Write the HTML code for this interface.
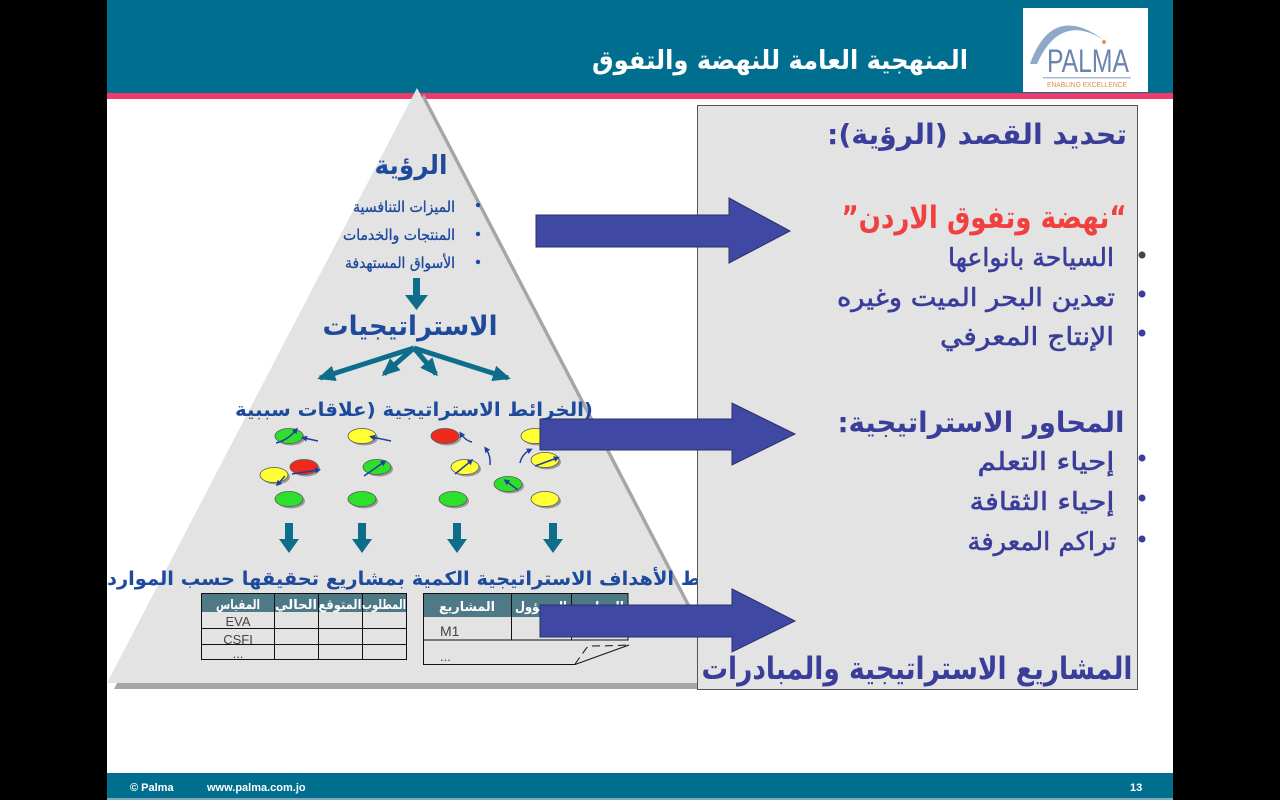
<!DOCTYPE html>
<html><head><meta charset="utf-8"><style>
html,body{margin:0;padding:0;background:#000;}
svg{display:block;}
.ar{font-family:"DejaVu Sans",sans-serif;}
.lt{font-family:"Liberation Sans",sans-serif;}
</style></head><body>
<svg width="1280" height="800" viewBox="0 0 1280 800" xmlns="http://www.w3.org/2000/svg">
<defs>
<marker id="mh" markerWidth="6" markerHeight="6" refX="3" refY="3" orient="auto" markerUnits="userSpaceOnUse"><path d="M0,0 L6,3 L0,6 Z" fill="#1f3f9a"/></marker>
<marker id="th" markerWidth="18" markerHeight="16" refX="15" refY="8" orient="auto" markerUnits="userSpaceOnUse"><path d="M0,0 L18,8 L0,16 Z" fill="#0d6d8a"/></marker>
</defs>
<rect x="0" y="0" width="1280" height="800" fill="#000"/>
<rect x="107" y="0" width="1066" height="800" fill="#fff"/>
<!-- header -->
<rect x="107" y="0" width="1066" height="93" fill="#006f8f"/>
<rect x="107" y="93" width="1066" height="6" fill="#ef3b6c"/>
<text class="ar" x="780" y="69" font-size="26" font-weight="bold" fill="#fff" text-anchor="middle" direction="rtl" textLength="376" lengthAdjust="spacingAndGlyphs">المنهجية العامة للنهضة والتفوق</text>
<!-- logo -->
<rect x="1023" y="8" width="125" height="84" fill="#fff"/>
<path d="M1030,64 Q1052,2 1104,40 Q1060,12 1037,64 Z" fill="#8fa7c9"/>
<text class="lt" x="1088" y="72" font-size="32" fill="#6a84b0" text-anchor="middle" textLength="82" lengthAdjust="spacingAndGlyphs">PALMA</text>
<circle cx="1104" cy="42" r="2" fill="#e8914a"/>
<rect x="1043" y="77" width="88" height="1.5" fill="#a9bbd6"/>
<text class="lt" x="1087" y="87" font-size="7" fill="#e08a4a" text-anchor="middle" textLength="80" lengthAdjust="spacingAndGlyphs">ENABLING EXCELLENCE</text>
<!-- pyramid -->
<polygon points="424,94 734,689 114,689" fill="#a6a6a6"/>
<polygon points="417,88 727,683 107,683" fill="#e3e3e3"/>
<text class="ar" x="411" y="174" font-size="26" font-weight="bold" fill="#1d4a9c" text-anchor="middle" direction="rtl" textLength="73" lengthAdjust="spacingAndGlyphs">الرؤية</text>
<g fill="#1d4a9c">
<circle cx="478" cy="205" r="2.2"/><circle cx="478" cy="234" r="2.2"/><circle cx="478" cy="262" r="2.2"/>
</g>
<g class="ar" font-size="15" fill="#1d4a9c" stroke="#1d4a9c" stroke-width="0.35" text-anchor="middle" direction="rtl">
<text x="404" y="212" textLength="102" lengthAdjust="spacingAndGlyphs">الميزات التنافسية</text>
<text x="399" y="240" textLength="112" lengthAdjust="spacingAndGlyphs">المنتجات والخدمات</text>
<text x="400" y="268" textLength="110" lengthAdjust="spacingAndGlyphs">الأسواق المستهدفة</text>
</g>
<!-- down arrow -->
<rect x="413" y="278" width="7" height="18" fill="#0d6d8a"/>
<polygon points="405,295 428,295 416.5,310" fill="#0d6d8a"/>
<text class="ar" x="410" y="335" font-size="27" font-weight="bold" fill="#1d4a9c" text-anchor="middle" direction="rtl" textLength="175" lengthAdjust="spacingAndGlyphs">الاستراتيجيات</text>
<!-- fan arrows -->
<g stroke="#0d6d8a" stroke-width="5" fill="none">
<line x1="414" y1="348" x2="320" y2="378" marker-end="url(#th)"/>
<line x1="414" y1="348" x2="384" y2="374" marker-end="url(#th)"/>
<line x1="414" y1="348" x2="436" y2="374" marker-end="url(#th)"/>
<line x1="414" y1="348" x2="508" y2="378" marker-end="url(#th)"/>
</g>
<text class="ar" x="414" y="416" font-size="19" font-weight="bold" fill="#1d4a9c" text-anchor="middle" direction="rtl" textLength="358" lengthAdjust="spacingAndGlyphs">(الخرائط الاستراتيجية (علاقات سببية</text>
<!-- ellipses -->
<g stroke="#555" stroke-width="0.8">
<g fill="#9a9a9a" stroke="none">
<ellipse cx="291" cy="438" rx="14" ry="7.5"/><ellipse cx="364" cy="438" rx="14" ry="7.5"/><ellipse cx="447" cy="438" rx="14" ry="7.5"/><ellipse cx="537" cy="438" rx="14" ry="7.5"/>
<ellipse cx="276" cy="477" rx="14" ry="7.5"/><ellipse cx="306" cy="469" rx="14" ry="7.5"/><ellipse cx="379" cy="469" rx="14" ry="7.5"/><ellipse cx="467" cy="469" rx="14" ry="7.5"/><ellipse cx="510" cy="486" rx="14" ry="7.5"/><ellipse cx="547" cy="462" rx="14" ry="7.5"/>
<ellipse cx="291" cy="501" rx="14" ry="7.5"/><ellipse cx="364" cy="501" rx="14" ry="7.5"/><ellipse cx="455" cy="501" rx="14" ry="7.5"/><ellipse cx="547" cy="501" rx="14" ry="7.5"/>
</g>
<ellipse cx="289" cy="436" rx="14" ry="7.5" fill="#2ee02e"/>
<ellipse cx="362" cy="436" rx="14" ry="7.5" fill="#ffff33"/>
<ellipse cx="445" cy="436" rx="14" ry="7.5" fill="#ee2a1c"/>
<ellipse cx="535" cy="436" rx="14" ry="7.5" fill="#ffff33"/>
<ellipse cx="274" cy="475" rx="14" ry="7.5" fill="#ffff33"/>
<ellipse cx="304" cy="467" rx="14" ry="7.5" fill="#ee2a1c"/>
<ellipse cx="377" cy="467" rx="14" ry="7.5" fill="#2ee02e"/>
<ellipse cx="465" cy="467" rx="14" ry="7.5" fill="#ffff33"/>
<ellipse cx="508" cy="484" rx="14" ry="7.5" fill="#2ee02e"/>
<ellipse cx="545" cy="460" rx="14" ry="7.5" fill="#ffff33"/>
<ellipse cx="289" cy="499" rx="14" ry="7.5" fill="#2ee02e"/>
<ellipse cx="362" cy="499" rx="14" ry="7.5" fill="#2ee02e"/>
<ellipse cx="453" cy="499" rx="14" ry="7.5" fill="#2ee02e"/>
<ellipse cx="545" cy="499" rx="14" ry="7.5" fill="#ffff33"/>
</g>
<g stroke="#1f3f9a" stroke-width="1.5" fill="none">
<path d="M276,443 Q288,440 296,430" marker-end="url(#mh)"/>
<path d="M318,441 L304,438" marker-end="url(#mh)"/>
<path d="M391,441 L372,437" marker-end="url(#mh)"/>
<path d="M472,442 Q466,441 461,434" marker-end="url(#mh)"/>
<path d="M490,465 Q491,456 486,449" marker-end="url(#mh)"/>
<path d="M520,463 Q522,454 530,450" marker-end="url(#mh)"/>
<path d="M292,474 L318,470" marker-end="url(#mh)"/>
<path d="M285,476 L278,484" marker-end="url(#mh)"/>
<path d="M364,476 L384,462" marker-end="url(#mh)"/>
<path d="M455,474 L471,461" marker-end="url(#mh)"/>
<path d="M518,490 L506,481" marker-end="url(#mh)"/>
<path d="M535,466 L557,458" marker-end="url(#mh)"/>
</g>
<!-- teal down arrows -->
<g fill="#0d6d8a">
<rect x="285" y="523" width="8" height="17"/><polygon points="279,539 299,539 289,553"/>
<rect x="358" y="523" width="8" height="17"/><polygon points="352,539 372,539 362,553"/>
<rect x="453" y="523" width="8" height="17"/><polygon points="447,539 467,539 457,553"/>
<rect x="549" y="523" width="8" height="17"/><polygon points="543,539 563,539 553,553"/>
</g>
<text class="ar" x="404" y="585" font-size="19" font-weight="bold" fill="#1d4a9c" text-anchor="middle" direction="rtl" textLength="594" lengthAdjust="spacingAndGlyphs">ط الأهداف الاستراتيجية الكمية بمشاريع تحقيقها حسب الموارد</text>
<!-- table 1 -->
<rect x="201" y="593" width="206" height="19" fill="#4e7a88"/>
<g stroke="#111" stroke-width="1" fill="none">
<rect x="201.5" y="593.5" width="205" height="66"/>
<line x1="274.5" y1="593" x2="274.5" y2="660"/>
<line x1="318.5" y1="593" x2="318.5" y2="660"/>
<line x1="362.5" y1="593" x2="362.5" y2="660"/>
<line x1="201" y1="628.5" x2="407" y2="628.5"/>
<line x1="201" y1="644.5" x2="407" y2="644.5"/>
</g>
<g class="ar" font-size="13" font-weight="bold" fill="#fff" text-anchor="middle" direction="rtl">
<text x="238" y="609" textLength="44" lengthAdjust="spacingAndGlyphs">المقياس</text>
<text x="296" y="609" textLength="42" lengthAdjust="spacingAndGlyphs">الحالي</text>
<text x="340" y="609" textLength="43" lengthAdjust="spacingAndGlyphs">المتوقع</text>
<text x="384" y="609" textLength="44" lengthAdjust="spacingAndGlyphs">المطلوب</text>
</g>
<g class="lt" font-size="13" fill="#444" text-anchor="middle">
<text x="238" y="626">EVA</text>
<text x="238" y="644">CSFI</text>
<text x="238" y="658">...</text>
</g>
<!-- table 2 -->
<rect x="423" y="593" width="205" height="24" fill="#4e7a88"/>
<g stroke="#111" stroke-width="1" fill="none">
<rect x="423.5" y="593.5" width="204.5" height="46.5"/>
<line x1="511.5" y1="593" x2="511.5" y2="640"/>
<line x1="571.5" y1="593" x2="571.5" y2="640"/>
<polyline points="423.5,640 423.5,664.5 575,664.5 629,645"/>
<path d="M575,664 L588,646 Q610,646 629,645" stroke-dasharray="8,5"/>
</g>
<g class="ar" font-size="13" font-weight="bold" fill="#fff" text-anchor="middle" direction="rtl">
<text x="467" y="611" textLength="56" lengthAdjust="spacingAndGlyphs">المشاريع</text>
<text x="541" y="611" textLength="52" lengthAdjust="spacingAndGlyphs">المسؤول</text>
<text x="600" y="611" textLength="48" lengthAdjust="spacingAndGlyphs">الموازنة</text>
</g>
<text class="lt" x="440" y="636" font-size="14" fill="#444">M1</text>
<text class="lt" x="440" y="661" font-size="13" fill="#444">...</text>
<!-- right panel -->
<rect x="697.5" y="105.5" width="440" height="584" fill="#e3e3e3" stroke="#555" stroke-width="1"/>
<text class="ar" x="977" y="144" font-size="28" font-weight="bold" fill="#3a3e9b" text-anchor="middle" direction="rtl" textLength="300" lengthAdjust="spacingAndGlyphs">تحديد القصد (الرؤية):</text>
<text class="ar" x="984" y="228" font-size="31" font-weight="bold" fill="#f0403f" text-anchor="middle" direction="rtl" textLength="285" lengthAdjust="spacingAndGlyphs">“نهضة وتفوق الاردن”</text>
<circle cx="1142" cy="255" r="3.5" fill="#444"/>
<circle cx="1142" cy="294" r="3.5" fill="#3a3e9b"/>
<circle cx="1142" cy="333" r="3.5" fill="#3a3e9b"/>
<g class="ar" font-size="25" fill="#3a3e9b" stroke="#3a3e9b" stroke-width="0.6" text-anchor="middle" direction="rtl">
<text x="1031" y="266" textLength="166" lengthAdjust="spacingAndGlyphs">السياحة بانواعها</text>
<text x="976" y="306" textLength="278" lengthAdjust="spacingAndGlyphs">تعدين البحر الميت وغيره</text>
<text x="1027" y="345" textLength="174" lengthAdjust="spacingAndGlyphs">الإنتاج المعرفي</text>
</g>
<text class="ar" x="981" y="432" font-size="28" font-weight="bold" fill="#3a3e9b" text-anchor="middle" direction="rtl" textLength="287" lengthAdjust="spacingAndGlyphs">المحاور الاستراتيجية:</text>
<circle cx="1142" cy="458" r="3.5" fill="#3a3e9b"/>
<circle cx="1142" cy="498" r="3.5" fill="#3a3e9b"/>
<circle cx="1142" cy="539" r="3.5" fill="#3a3e9b"/>
<g class="ar" font-size="25" fill="#3a3e9b" stroke="#3a3e9b" stroke-width="0.6" text-anchor="middle" direction="rtl">
<text x="1046" y="470" textLength="137" lengthAdjust="spacingAndGlyphs">إحياء التعلم</text>
<text x="1042" y="510" textLength="145" lengthAdjust="spacingAndGlyphs">إحياء الثقافة</text>
<text x="1042" y="550" textLength="149" lengthAdjust="spacingAndGlyphs">تراكم المعرفة</text>
</g>
<text class="ar" x="917" y="679" font-size="31" font-weight="bold" fill="#3a3e9b" text-anchor="middle" direction="rtl" textLength="431" lengthAdjust="spacingAndGlyphs">المشاريع الاستراتيجية والمبادرات</text>
<!-- blue arrows -->
<g fill="#3f48a3" stroke="#2b2f6a" stroke-width="1">
<polygon points="536,215 729,215 729,198 790,231 729,263 729,247 536,247"/>
<polygon points="540,419 732,419 732,403 795,434 732,465 732,450 540,450"/>
<polygon points="540,605 732,605 732,589 795,621 732,652 732,637 540,637"/>
</g>
<!-- footer -->
<rect x="107" y="773" width="1066" height="25" fill="#006f8f"/>
<rect x="107" y="798" width="1066" height="2" fill="#7fa9b8"/>
<g class="lt" font-size="11" font-weight="bold" fill="#fff">
<text x="130" y="791">© Palma</text>
<text x="207" y="791">www.palma.com.jo</text>
<text x="1130" y="791">13</text>
</g>
</svg>
</body></html>
